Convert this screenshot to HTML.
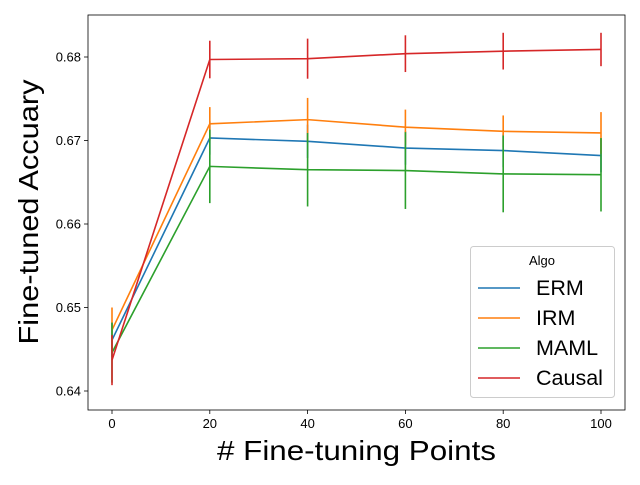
<!DOCTYPE html>
<html><head><meta charset="utf-8"><style>
body{margin:0;background:#fff;}
svg{font-family:"Liberation Sans","DejaVu Sans",sans-serif;}
</style></head><body>
<svg id="chart" width="640" height="480" xmlns="http://www.w3.org/2000/svg"></svg>
<script>
const xValues = [0, 20, 40, 60, 80, 100];
const seriesNames = ["ERM", "IRM", "MAML", "Causal"];
const ermValues = [0.6461, 0.6703, 0.6699, 0.6691, 0.6688, 0.6682];
const ermErrors = [0.002, 0.002, 0.002, 0.002, 0.002, 0.002];
const irmValues = [0.6473, 0.6720, 0.6725, 0.6716, 0.6711, 0.6709];
const irmErrors = [0.0027, 0.002, 0.0026, 0.0021, 0.0019, 0.0025];
const mamlValues = [0.6446, 0.6669, 0.6665, 0.6664, 0.6660, 0.6659];
const mamlErrors = [0.0036, 0.0044, 0.0044, 0.0046, 0.0046, 0.0044];
const causalValues = [0.6437, 0.6797, 0.6798, 0.6804, 0.6807, 0.6809];
const causalErrors = [0.003, 0.00225, 0.0024, 0.0022, 0.0022, 0.002];
const xTicks = [0, 20, 40, 60, 80, 100];
const yTicks = [0.64, 0.65, 0.66, 0.67, 0.68];
const colors = ["#1f77b4", "#ff7f0e", "#2ca02c", "#d62728"];

const svg = document.getElementById('chart');
const NS = "http://www.w3.org/2000/svg";
function mk(tag, attrs, parent) {
  const e = document.createElementNS(NS, tag);
  for (const k in attrs) e.setAttribute(k, attrs[k]);
  (parent || svg).appendChild(e);
  return e;
}
const L = 88, R = 625, T = 15, B = 410;
function xs(v) { return 112 + (v - 0) * (601 - 112) / 100; }
function ys(v) { return 391 - (v - 0.64) * (391 - 57) / 0.04; }

xTicks.forEach(t => {
  const g = mk('g', {});
  
  
  mk('line', {x1: xs(t), x2: xs(t), y1: B, y2: B + 4, stroke: '#000', 'stroke-width': 0.8}, g);
  const tx = mk('text', {x: xs(t), y: B + 18, 'font-size': 13, 'text-anchor': 'middle'}, g);
  tx.textContent = t;
});
yTicks.forEach(t => {
  const g = mk('g', {});
  
  
  mk('line', {x1: L - 4, x2: L, y1: ys(t), y2: ys(t), stroke: '#000', 'stroke-width': 0.8}, g);
  const tx = mk('text', {x: L - 7, y: ys(t) + 4.5, 'font-size': 13, 'text-anchor': 'end'}, g);
  tx.textContent = t.toFixed(2);
});

const allVals = [ermValues, irmValues, mamlValues, causalValues];
const allErrs = [ermErrors, irmErrors, mamlErrors, causalErrors];
allVals.forEach((vals, si) => {
  const g = mk('g', {});
  
  
  const pts = vals.map((v, i) => xs(xValues[i]) + ',' + ys(v)).join(' ');
  const pl = mk('polyline', {points: pts, fill: 'none', stroke: colors[si], 'stroke-width': 1.6}, g);
  
  
  vals.forEach((v, i) => {
    const e = allErrs[si][i];
    const ln = mk('line', {x1: xs(xValues[i]), x2: xs(xValues[i]), y1: ys(v - e), y2: ys(v + e), stroke: colors[si], 'stroke-width': 1.6}, g);
    
    
  });
});

const fr = mk('rect', {x: L, y: T, width: R - L, height: B - T, fill: 'none', stroke: '#000', 'stroke-width': 0.8});



const xl = mk('text', {x: (L + R) / 2, y: 460, 'font-size': 28, 'text-anchor': 'middle', textLength: 279, lengthAdjust: 'spacingAndGlyphs'});
xl.textContent = '# Fine-tuning Points';


const yl = mk('text', {x: 0, y: 0, 'font-size': 28, 'text-anchor': 'middle', textLength: 265, lengthAdjust: 'spacingAndGlyphs', transform: 'translate(38,212) rotate(-90)'});
yl.textContent = 'Fine-tuned Accuary';



const lg = mk('g', {});


mk('rect', {x: 470.5, y: 246.5, width: 144, height: 151, rx: 3, fill: '#fff', 'fill-opacity': 0.8, stroke: '#ccc'}, lg);
const lt = mk('text', {x: 542, y: 265, 'font-size': 13, 'text-anchor': 'middle'}, lg);
lt.textContent = 'Algo';
seriesNames.forEach((n, i) => {
  const eg = mk('g', {}, lg);
  
  
  const y = 288 + i * 30;
  mk('line', {x1: 478, x2: 520, y1: y, y2: y, stroke: colors[i], 'stroke-width': 1.6}, eg);
  const t = mk('text', {x: 536, y: y + 7, 'font-size': 21.5}, eg);
  t.textContent = n;
});
</script>
</body></html>
